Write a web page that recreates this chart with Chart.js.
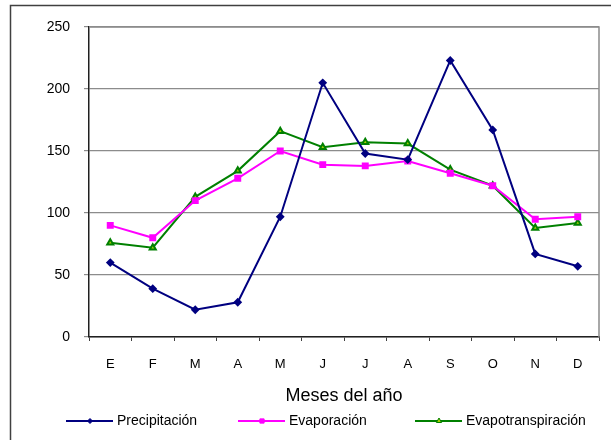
<!DOCTYPE html>
<html>
<head>
<meta charset="utf-8">
<script src="https://cdn.jsdelivr.net/npm/chart.js@4"></script>
<style>
  html, body { margin: 0; padding: 0; background: #fff; }
  #wrap { width: 611px; height: 440px; }
</style>
</head>
<body>
<div id="wrap"><canvas id="chart" width="611" height="440"></canvas></div>
<script>
// Data
const months = ["E", "F", "M", "A", "M", "J", "J", "A", "S", "O", "N", "D"];
const precipitacion = [60, 39, 22, 28, 97, 205, 148, 143, 223, 167, 67, 57];
const evaporacion = [90, 80, 110, 128, 150, 139, 138, 142, 132, 122, 95, 97];
const evapotranspiracion = [76, 72, 113, 134, 166, 153, 157, 156, 135, 122, 88, 92];
const yTicks = [0, 50, 100, 150, 200, 250];

const FONT = "'Liberation Sans', Arial, sans-serif";

// Legend sample positions (line start x)
const legendX = [66, 238, 415];
const legendY = 421;

const frame = {
  id: 'frame',
  beforeDraw(chart) {
    const ctx = chart.ctx;
    ctx.save();
    ctx.fillStyle = '#fff';
    ctx.fillRect(0, 0, chart.width, chart.height);
    // outer border (cropped at right and bottom)
    ctx.strokeStyle = '#404040';
    ctx.lineWidth = 1.5;
    ctx.beginPath();
    ctx.moveTo(10.5, chart.height + 2);
    ctx.lineTo(10.5, 5.5);
    ctx.lineTo(chart.width + 2, 5.5);
    ctx.stroke();
    ctx.restore();
  },
  afterDatasetsDraw(chart) {
    const ctx = chart.ctx;
    const a = chart.chartArea;
    ctx.save();
    ctx.strokeStyle = '#8c8c8c';
    ctx.lineWidth = 1.5;
    ctx.beginPath();
    ctx.moveTo(a.left, a.top);
    ctx.lineTo(a.right, a.top);
    ctx.lineTo(a.right, a.bottom);
    ctx.stroke();
    ctx.restore();
  },
  afterDraw(chart) {
    const ctx = chart.ctx;
    ctx.save();
    chart.data.datasets.forEach((ds, i) => {
      const x0 = legendX[i];
      ctx.strokeStyle = ds.borderColor;
      ctx.lineWidth = 2;
      ctx.beginPath();
      ctx.moveTo(x0, legendY);
      ctx.lineTo(x0 + 47, legendY);
      ctx.stroke();
      ctx.fillStyle = ds.pointBackgroundColor;
      ctx.strokeStyle = ds.pointBorderColor;
      ctx.lineWidth = 1;
      Chart.helpers.drawPoint(ctx, {
        pointStyle: ds.pointStyle,
        radius: ds.pointRadius - 0.5,
        borderWidth: 1
      }, x0 + 24, legendY);
      ctx.fillStyle = '#000';
      ctx.font = '14px ' + FONT;
      ctx.textBaseline = 'middle';
      ctx.textAlign = 'left';
      ctx.fillText(ds.label, x0 + 51, legendY);
    });
    ctx.restore();
  }
};

new Chart(document.getElementById('chart'), {
  type: 'line',
  data: {
    labels: months,
    datasets: [
      {
        label: 'Precipitación',
        data: precipitacion,
        borderColor: '#000080',
        backgroundColor: '#000080',
        pointBackgroundColor: '#000080',
        pointBorderColor: '#000080',
        pointStyle: 'rectRot',
        pointRadius: 3,
        borderWidth: 2
      },
      {
        label: 'Evaporación',
        data: evaporacion,
        borderColor: '#ff00ff',
        backgroundColor: '#ff00ff',
        pointBackgroundColor: '#ff00ff',
        pointBorderColor: '#ff00ff',
        pointStyle: 'rect',
        pointRadius: 3.5,
        borderWidth: 2
      },
      {
        label: 'Evapotranspiración',
        data: evapotranspiracion,
        borderColor: '#008000',
        backgroundColor: '#008000',
        pointBackgroundColor: '#a8d000',
        pointBorderColor: '#008000',
        pointStyle: 'triangle',
        pointRadius: 3.5,
        borderWidth: 2
      }
    ]
  },
  options: {
    responsive: false,
    animation: false,
    layout: { padding: { left: 0, right: 12, top: 27, bottom: 33 } },
    plugins: {
      legend: { display: false },
      tooltip: { enabled: false }
    },
    elements: {
      line: { tension: 0 },
      point: { borderWidth: 1 }
    },
    scales: {
      x: {
        offset: true,
        grid: {
          offset: true,
          drawOnChartArea: false,
          drawTicks: true,
          tickLength: 4,
          color: '#404040'
        },
        border: { color: '#202020', width: 1.5 },
        ticks: {
          color: '#000',
          font: { family: FONT, size: 13 },
          padding: 16,
          maxRotation: 0,
          autoSkip: false
        },
        title: {
          display: true,
          text: 'Meses del año',
          color: '#000',
          font: { family: FONT, size: 18 },
          padding: { top: 4, bottom: 0 }
        },
        afterFit(scale) { scale.height = 70; }
      },
      y: {
        min: 0,
        max: 250,
        afterBuildTicks(scale) { scale.ticks = yTicks.map(v => ({ value: v })); },
        grid: {
          color: '#8c8c8c',
          lineWidth: 1.2,
          tickLength: 5,
          drawTicks: true
        },
        border: { color: '#202020', width: 1.5 },
        ticks: {
          color: '#000',
          font: { family: FONT, size: 14 },
          padding: 14
        },
        afterFit(scale) { scale.width = 89; }
      }
    }
  },
  plugins: [frame]
});
</script>
</body>
</html>
